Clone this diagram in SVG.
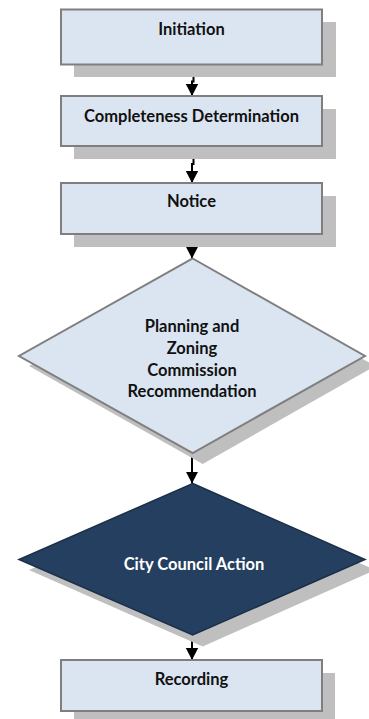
<svg xmlns="http://www.w3.org/2000/svg" width="369" height="719" viewBox="0 0 369 719">
<style>
.shadow{fill:#bfbfbf;stroke:none}
.box{fill:#dbe5f1;stroke:#7f7f7f;stroke-width:2}
.dark{fill:#243f60;stroke:#1c2f48;stroke-width:1.5}
.lbl{font-family:Lato,"Open Sans","Liberation Sans",sans-serif;font-weight:bold;font-size:16.5px;fill:#111111;text-anchor:middle}
.lblw{fill:#ffffff}
.conn{fill:none;stroke:#000000;stroke-width:2}
</style>
<defs>
<marker id="ah" markerUnits="userSpaceOnUse" markerWidth="14" markerHeight="14" viewBox="0 0 14 14" refX="12" refY="7" orient="auto">
<path d="M0,0.8 L12,7 L0,13.2 Z" fill="#000000"/>
</marker>
</defs>
<rect width="369" height="719" fill="#ffffff"/>
<g id="connectors">
<path class="conn" d="M193.5,65 V81.5 H192 V96" marker-end="url(#ah)"/>
<path class="conn" d="M193.5,147 V164 H192 V183" marker-end="url(#ah)"/>
<path class="conn" d="M193.5,235 V247 H192 V258.5" marker-end="url(#ah)"/>
<path class="conn" d="M192,453 V483.5" marker-end="url(#ah)"/>
<path class="conn" d="M192,635.5 V660" marker-end="url(#ah)"/>
</g>
<g id="initiation">
<rect class="shadow" x="74" y="22" width="262" height="55"/>
<rect class="box" x="61" y="9.5" width="261" height="55"/>
<text class="lbl" x="191.5" y="35">Initiation</text>
</g>
<g id="completeness">
<rect class="shadow" x="74" y="109" width="262" height="50"/>
<rect class="box" x="61" y="96" width="261" height="50"/>
<text class="lbl" x="191.5" y="122">Completeness Determination</text>
</g>
<g id="notice">
<rect class="shadow" x="74" y="196" width="262" height="51"/>
<rect class="box" x="61" y="183" width="261" height="51"/>
<text class="lbl" x="191.5" y="207">Notice</text>
</g>
<g id="pzc">
<polygon class="shadow" points="202.7,269 375,366 202.7,464 29,366"/>
<polygon class="box" points="192.7,258.5 365,356 192.7,453 19,356"/>
<text class="lbl" x="192" y="332">Planning and</text>
<text class="lbl" x="192" y="354">Zoning</text>
<text class="lbl" x="192" y="376">Commission</text>
<text class="lbl" x="192" y="397">Recommendation</text>
</g>
<g id="council">
<polygon class="shadow" points="202.7,494 375,570 202.7,646.5 29,570"/>
<polygon class="dark" points="192.7,483.5 365,559.5 192.7,635 19,559.5"/>
<text class="lbl lblw" x="194" y="570">City Council Action</text>
</g>
<g id="recording">
<rect class="shadow" x="74" y="673" width="261" height="51"/>
<rect class="box" x="61" y="660" width="261" height="51"/>
<text class="lbl" x="191.5" y="685">Recording</text>
</g>
</svg>
